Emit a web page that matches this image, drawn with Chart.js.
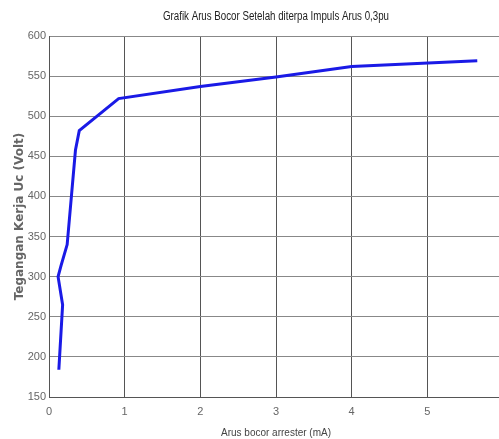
<!DOCTYPE html>
<html><head><meta charset="utf-8">
<script src="https://cdn.jsdelivr.net/npm/chart.js@4"></script>
<style>html,body{margin:0;padding:0;overflow:hidden;background:#fff;width:499px;height:439px}canvas{display:block}</style>
</head><body>
<canvas id="c" width="503" height="439"></canvas>
<script>
const arusMA = [0.13, 0.18, 0.12, 0.16, 0.24, 0.35, 0.40, 0.92, 2.0, 3.0, 4.0, 5.66];
const teganganV = [184, 265, 300, 314, 340, 458, 482, 522, 537, 549, 562, 569];
const xTicks = [0, 1, 2, 3, 4, 5, 6];
const yTicks = [150, 200, 250, 300, 350, 400, 450, 500, 550, 600];
const titleText = 'Grafik Arus Bocor Setelah diterpa Impuls Arus 0,3pu';
const xTitle = 'Arus bocor arrester (mA)';
const yTitle = 'Tegangan Kerja Uc (Volt)';

const pts = arusMA.map((x, i) => ({x, y: teganganV[i]}));
const font = "'Liberation Sans', Arial, sans-serif";

// draws the chart title with horizontally condensed glyphs (like the reference)
const condensedTitle = {
  id: 'condensedTitle',
  afterDraw(chart) {
    const ctx = chart.ctx, a = chart.chartArea;
    ctx.save();
    ctx.font = "12px " + font;
    ctx.fillStyle = '#222';
    ctx.textAlign = 'center';
    ctx.textBaseline = 'middle';
    ctx.fillText(titleText, (a.left + a.right) / 2, 17, 226);
    ctx.restore();
  }
};

new Chart(document.getElementById('c'), {
  type: 'scatter',
  data: {datasets: [{data: pts, showLine: true, borderColor: '#1a1ae6', borderWidth: 3, pointRadius: 0, tension: 0}]},
  options: {
    responsive: false, animation: false,
    layout: {padding: {left: 0, right: 0, top: 36, bottom: 0}},
    plugins: {legend: {display: false}, tooltip: {enabled: false}, title: {display: false}},
    scales: {
      x: {type: 'linear', min: xTicks[0], max: xTicks[xTicks.length-1],
        afterBuildTicks: s => { s.ticks = xTicks.map(v => ({value: v})); },
        afterFit: s => { s.height = 42; s.paddingLeft = 0; s.paddingRight = 0; },
        ticks: {color: '#666', font: {family: font, size: 11}, padding: 8, maxRotation: 0, callback: v => v === 6 ? '' : String(v)},
        grid: {color: '#555', lineWidth: 1, drawTicks: false},
        border: {color: '#555'},
        title: {display: true, text: xTitle, color: '#444', font: {family: font, size: 10}, padding: {top: 2, bottom: 0}}
      },
      y: {type: 'linear', min: yTicks[0], max: yTicks[yTicks.length-1],
        afterBuildTicks: s => { s.ticks = yTicks.map(v => ({value: v})); },
        afterFit: s => { s.width = 49; s.paddingTop = 0; s.paddingBottom = 0; },
        ticks: {color: '#666', font: {family: font, size: 11}, padding: 3},
        grid: {color: '#888', lineWidth: 1, drawTicks: false},
        border: {color: '#555'},
        title: {display: true, text: yTitle, color: '#666', font: {family: "'DejaVu Sans', sans-serif", size: 12, weight: 'bold'}, padding: {top: 13, bottom: 0}}
      }
    }
  },
  plugins: [condensedTitle]
});
</script>
</body></html>
